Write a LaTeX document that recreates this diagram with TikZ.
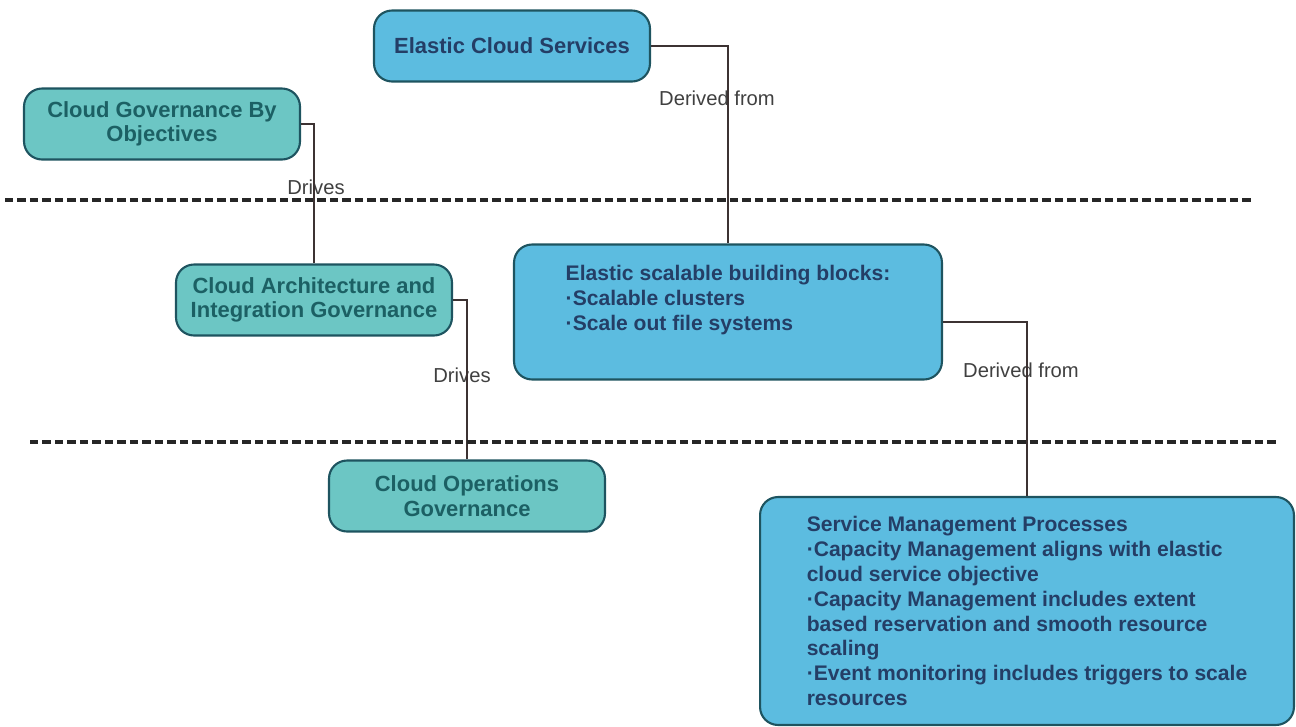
\documentclass[tikz,border=0pt]{standalone}
\usepackage{fontspec}
\setmainfont{Liberation Sans}
\usepackage{tikz}
\definecolor{cloudblue}{RGB}{92,188,224}
\definecolor{cloudteal}{RGB}{108,198,196}
\definecolor{edgeteal}{RGB}{30,84,96}
\definecolor{txtblue}{RGB}{36,62,102}
\definecolor{txtteal}{RGB}{28,96,100}
\definecolor{linegray}{RGB}{60,50,50}

\begin{document}
\begin{tikzpicture}[x=0.02cm,y=-0.02cm,
  box/.style={draw=edgeteal, line width=1.2pt, rounded corners=0.36cm},
  govbox/.style={box, fill=cloudteal, text=txtteal, align=center,
    font=\fontsize{12.5}{14}\selectfont\bfseries, minimum width=5.52cm, minimum height=1.42cm},
  topbox/.style={govbox, fill=cloudblue, text=txtblue},
  svcbox/.style={box, fill=cloudblue, text=txtblue, align=left,
    font=\fontsize{12}{14.2}\selectfont\bfseries},
  rel/.style={text=black!75, font=\fontsize{11.5}{13}\selectfont},
  link/.style={draw=linegray, line width=0.8pt},
  layer/.style={black!85, line width=2pt, dash pattern=on 0.17cm off 0.08cm}]
\useasboundingbox (0,0) rectangle (1296,727);

% Boxes
\node[topbox] (ecs) at (512,46) {Elastic Cloud Services};
\node[govbox] (cgbo) at (162,124) {Cloud Governance By\\Objectives};
\node[govbox] (caig) at (314,300) {Cloud Architecture and\\Integration Governance};
\node[govbox] (cog) at (467,496) {Cloud Operations\\Governance};
\node[svcbox, minimum width=8.56cm, minimum height=2.7cm] (blocks) at (728,312)
  {Elastic scalable building blocks:\\·Scalable clusters\\·Scale out file systems\\[0.05cm]};
\node[svcbox, minimum width=10.68cm, minimum height=4.56cm] (smp) at (1027,611)
  {Service Management Processes\\
   ·Capacity Management aligns with elastic\\
   cloud service objective\\
   ·Capacity Management includes extent\\
   based reservation and smooth resource\\
   scaling\\
   ·Event monitoring includes triggers to scale\\
   resources};

% Relation labels
\node[rel] (derA) at (717,98) {Derived from};
\node[rel] (drvA) at (316,187) {Drives};
\node[rel] (drvB) at (462,375) {Drives};
\node[rel] (derB) at (1021,370) {Derived from};

% Connectors
\draw[link] (ecs.east) -| (blocks.north);
\draw[link] (cgbo.east) -| (caig.north);
\draw[link] (caig.east) -| (cog.north);
\draw[link] ([yshift=-0.2cm]blocks.east) -| (smp.north);

% Layer separators
\coordinate (sepAl) at (5,200);
\coordinate (sepAr) at (1252,200);
\coordinate (sepBl) at (30,442);
\coordinate (sepBr) at (1278,442);
\draw[layer] (sepAl) -- (sepAr);
\draw[layer] (sepBl) -- (sepBr);
\end{tikzpicture}
\end{document}
